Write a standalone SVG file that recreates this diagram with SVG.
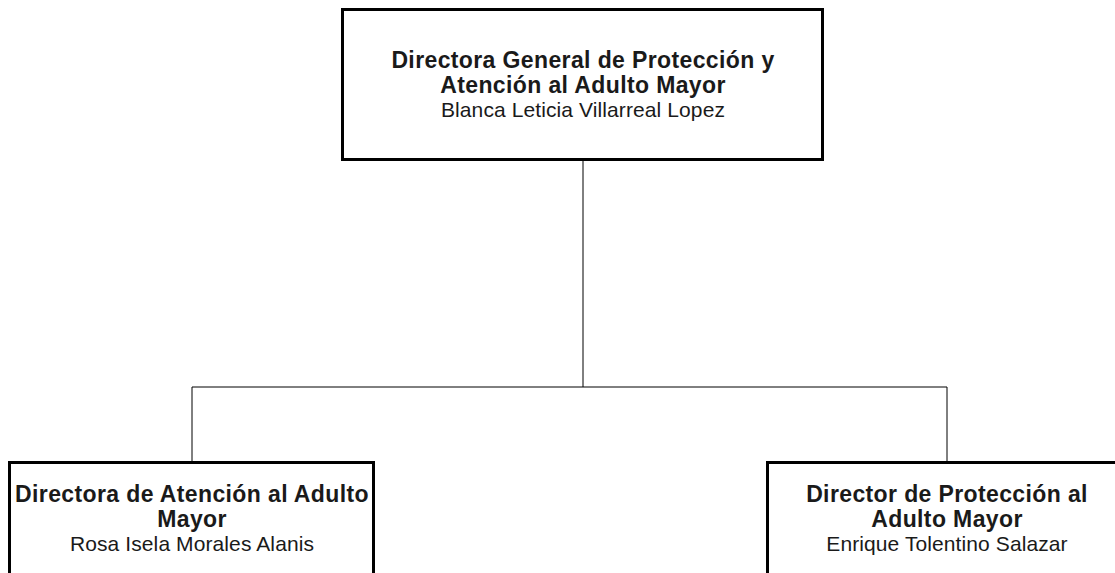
<svg xmlns="http://www.w3.org/2000/svg" width="1115" height="573" viewBox="0 0 1115 573">
<style>
.box{fill:#fff;stroke:#000;stroke-width:3}
.conn{fill:none;stroke:#000;stroke-width:1}
.t{font-family:"Liberation Sans",Arial,Helvetica,sans-serif;fill:#1a1a1a;text-anchor:middle}
.b{font-weight:bold;font-size:23px;letter-spacing:0.38px}
.r{font-size:21px;letter-spacing:0.1px}
</style>
<rect width="1115" height="573" fill="#fff"/>
<g id="connectors">
<path class="conn" d="M583 161V387"/>
<path class="conn" d="M192 387H947"/>
<path class="conn" d="M192 387V461"/>
<path class="conn" d="M947 387V461"/>
</g>
<g id="node-general">
<rect class="box" x="342.5" y="9.5" width="480" height="150"/>
<text class="t b" x="583" y="68">Directora General de Protección y</text>
<text class="t b" x="583" y="93">Atención al Adulto Mayor</text>
<text class="t r" x="583" y="116.5">Blanca Leticia Villarreal Lopez</text>
</g>
<g id="node-atencion">
<rect class="box" x="9.5" y="462.5" width="364" height="150"/>
<text class="t b" x="192" y="501.5">Directora de Atención al Adulto</text>
<text class="t b" x="192" y="527">Mayor</text>
<text class="t r" x="192" y="550.5">Rosa Isela Morales Alanis</text>
</g>
<g id="node-proteccion">
<rect class="box" x="767.5" y="462.5" width="364" height="150"/>
<text class="t b" x="947" y="501.5">Director de Protección al</text>
<text class="t b" x="947" y="527">Adulto Mayor</text>
<text class="t r" x="947" y="550.5">Enrique Tolentino Salazar</text>
</g>
</svg>
